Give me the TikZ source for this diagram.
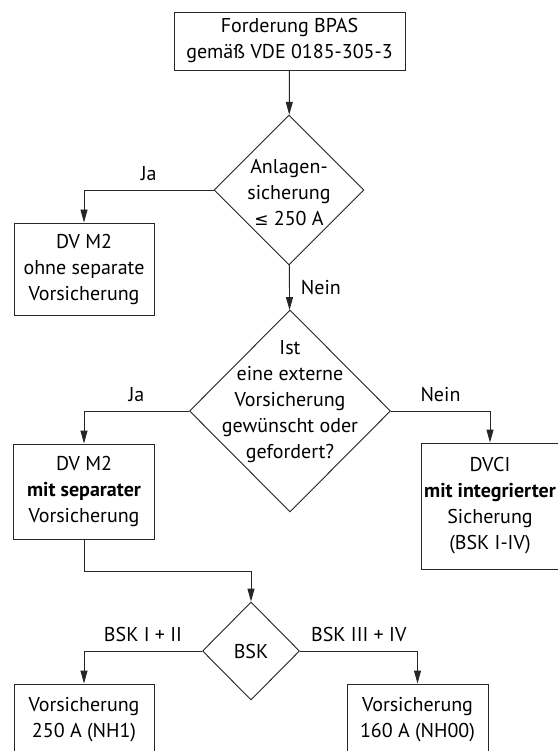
\documentclass[tikz,border=0pt]{standalone}
\usepackage{fontspec}
\setmainfont{PT Sans}
\newfontfamily\symbfont{DejaVu Sans}
\usetikzlibrary{arrows.meta,shapes.geometric,backgrounds}

\tikzset{
    base/.style={draw=black!85, line width=0.9pt, fill=white,
        font=\fontsize{20}{26}\selectfont, align=center, inner sep=0pt},
    box/.style={base, rectangle},
    decision/.style={base, diamond},
    dlabel/.style={font=\fontsize{20}{26}\selectfont, align=center, inner sep=0pt},
    arr/.style={draw=black!85, line width=0.9pt, -{Triangle[length=13pt,width=7pt]}},
    tag/.style={font=\fontsize{20}{26}\selectfont, inner sep=0pt},
    shadowfill/.style={fill=black!15, draw=none}
}

\begin{document}
\begin{tikzpicture}[x=1pt, y=-1pt]
    % Fix the page
    \useasboundingbox (0,0) rectangle (557,751);

    % Boxes
    \node[box, minimum width=231pt, minimum height=58pt] (forderung) at (289.5,41) {Forderung BPAS\\gemäß VDE 0185-305-3};
    \node[box, minimum width=140pt, minimum height=92pt] (ohne) at (84,269) {DV M2\\ohne separate\\Vorsicherung};
    \node[box, minimum width=141pt, minimum height=95pt] (mitsep) at (84,491.5) {DV M2\\\textbf{mit separater}\\Vorsicherung};
    \node[box, minimum width=138pt, minimum height=126pt] (dvci) at (490,506) {DVCI\\\textbf{mit integrierter}\\Sicherung\\(BSK I-IV)};
    \node[box, minimum width=140pt, minimum height=72pt] (nh1) at (84,720) {Vorsicherung\\250 A (NH1)};
    \node[box, minimum width=141pt, minimum height=72pt] (nh00) at (417.5,720) {Vorsicherung\\160 A (NH00)};

    % Decisions
    \node[decision, minimum width=150pt, minimum height=150pt,
        label={[dlabel, yshift=-3pt]center:Anlagen-\\sicherung\\{\symbfont\fontsize{17}{26}\selectfont ≤} 250 A}] (anlage) at (289,190) {};
    \node[decision, minimum width=201pt, minimum height=202pt,
        label={[dlabel, yshift=9pt]center:Ist\\eine externe\\Vorsicherung\\gewünscht oder\\gefordert?}] (extern) at (290,411) {};
    \node[decision, minimum width=97pt, minimum height=98pt] (bsk) at (251,651) {BSK};

    % Shadows behind the shapes
    \begin{scope}[on background layer, shift={(5,5)}]
        \foreach \b in {forderung,ohne,mitsep,dvci,nh1,nh00}
            \fill[shadowfill] (\b.north west) rectangle (\b.south east);
        \foreach \d in {anlage,extern,bsk}
            \fill[shadowfill] (\d.north) -- (\d.east) -- (\d.south) -- (\d.west) -- cycle;
    \end{scope}

    % Connectors
    \draw[arr] (forderung) -- (anlage);
    \draw[arr] (anlage.west) -| node[tag, pos=0.25, above=9pt] {Ja} (ohne.north);
    \draw[arr] (anlage) -- node[tag, right=11pt] {Nein} (extern);
    \draw[arr] (extern.west) -| node[tag, pos=0.25, above=9pt] {Ja} (mitsep.north);
    \draw[arr] (extern.east) -| node[tag, pos=0.25, above=9pt] {Nein} (dvci.north);
    \draw[arr] (mitsep.south) -- ++(0,32) -| (bsk.north);
    \draw[arr] (bsk.west) -| node[tag, pos=0.25, above=9pt] {BSK I + II} (nh1.north);
    \draw[arr] (bsk.east) -| node[tag, pos=0.25, above=9pt] {BSK III + IV} (nh00.north);
\end{tikzpicture}
\end{document}
